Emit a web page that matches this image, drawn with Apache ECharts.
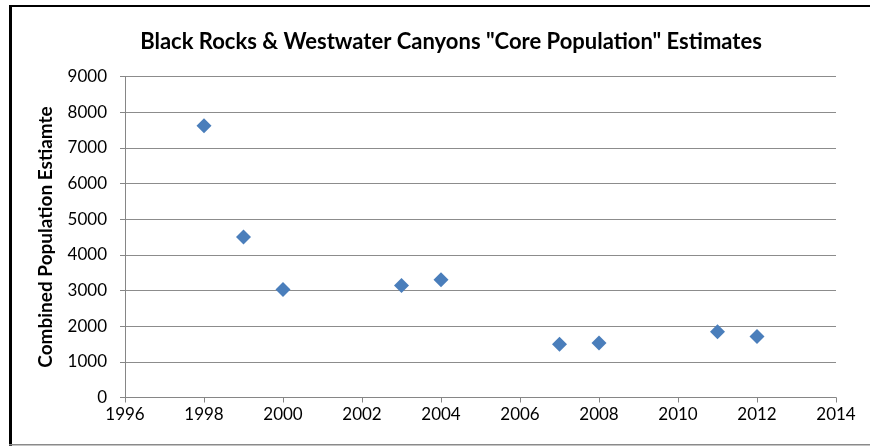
<!DOCTYPE html>
<html>
<head>
<meta charset="utf-8">
<script src="https://cdn.jsdelivr.net/npm/echarts@6/dist/echarts.min.js"></script>
<style>
  html, body { margin: 0; padding: 0; background: #fff; }
  #chart { width: 870px; height: 447px; }
</style>
</head>
<body>
<div id="chart"></div>
<script>
// Survey years and the combined core population estimate for each
const years = [1998, 1999, 2000, 2003, 2004, 2007, 2008, 2011, 2012];
const estimates = [7620, 4500, 3030, 3140, 3300, 1490, 1530, 1840, 1710];

const titleText = 'Black Rocks & Westwater Canyons "Core Population" Estimates';
const yAxisTitle = 'Combined Population Estiamte';

const points = years.map((y, i) => [y, estimates[i]]);
const FONT = 'Lato, "Open Sans", sans-serif';
const plain = v => String(v);

const chart = echarts.init(document.getElementById('chart'), null, { renderer: 'canvas' });
chart.setOption({
  animation: false,
  backgroundColor: '#fff',
  title: {
    text: titleText,
    left: 446,
    textAlign: 'center',
    top: 26,
    textStyle: { fontFamily: FONT, fontSize: 22, fontWeight: 'bold', color: '#000' }
  },
  grid: { left: 125, right: 34, top: 76.5, bottom: 49.5, containLabel: false },
  xAxis: {
    type: 'value',
    min: 1996,
    max: 2014,
    interval: 2,
    axisLine: { show: true, lineStyle: { color: '#868686', width: 1 } },
    axisTick: { show: true, length: 5, lineStyle: { color: '#868686' } },
    splitLine: { show: false },
    axisLabel: { fontFamily: FONT, fontSize: 17, color: '#000', margin: 9, formatter: plain }
  },
  yAxis: {
    type: 'value',
    min: 0,
    max: 9000,
    interval: 1000,
    name: yAxisTitle,
    nameLocation: 'middle',
    nameGap: 70,
    nameTextStyle: { fontFamily: FONT, fontSize: 19, fontWeight: 'bold', color: '#000' },
    axisLine: { show: true, lineStyle: { color: '#868686', width: 1 } },
    axisTick: { show: true, length: 5, lineStyle: { color: '#868686' } },
    splitLine: { show: true, lineStyle: { color: '#8c8c8c', width: 1.2 } },
    axisLabel: { fontFamily: FONT, fontSize: 17, color: '#000', margin: 18, formatter: plain }
  },
  series: [{
    type: 'scatter',
    data: points,
    symbol: 'diamond',
    symbolSize: [15, 15],
    itemStyle: { color: '#4a7ebb', opacity: 1 }
  }],
  graphic: [
    // chart frame edges
    { type: 'rect', shape: { x: 9, y: 5, width: 3, height: 441 }, style: { fill: '#000' } },
    { type: 'rect', shape: { x: 9, y: 5, width: 861, height: 2 }, style: { fill: '#000' } },
    { type: 'rect', shape: { x: 9, y: 444, width: 861, height: 1.5 }, style: { fill: '#8a8a8a' } }
  ]
});
</script>
</body>
</html>
